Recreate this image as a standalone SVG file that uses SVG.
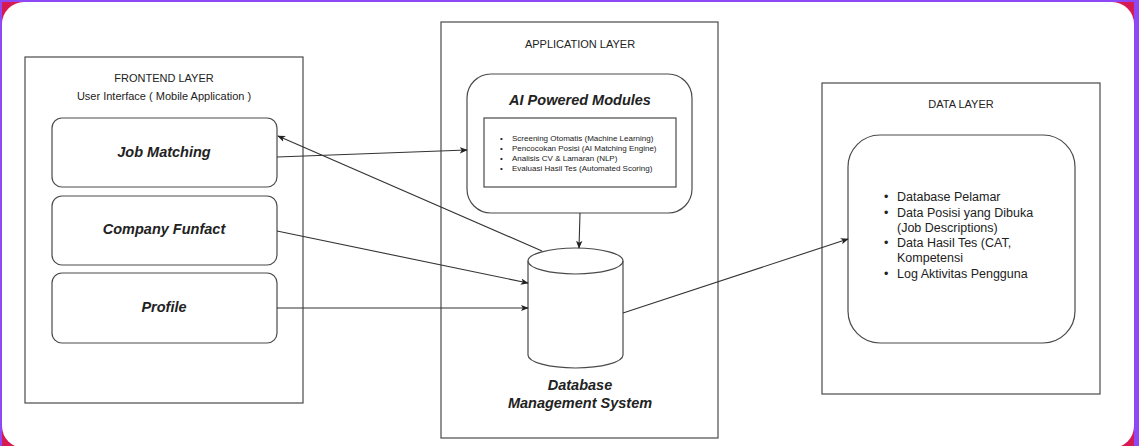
<svg xmlns="http://www.w3.org/2000/svg" width="1139" height="446" viewBox="0 0 1139 446">
<style>
.box{fill:#fff;stroke:#4a4a4a;stroke-width:1.2}
.t{font-family:"Liberation Sans",Arial,sans-serif;fill:#222}
.lbl{font-size:11px;text-anchor:middle}
.big{font-size:14.5px;font-weight:bold;font-style:italic;text-anchor:middle}
.sm{font-size:8px}
.md{font-size:12.5px}
.edge{fill:none;stroke:#333;stroke-width:1.1;marker-end:url(#arr)}
</style>
<defs>
<marker id="arr" viewBox="0 0 10 10" refX="9" refY="5" markerWidth="8" markerHeight="8" markerUnits="userSpaceOnUse" orient="auto">
<path d="M0,1 L10,5 L0,9 L2.5,5 Z" fill="#222"/>
</marker>
</defs>
<g id="background">
<rect x="0" y="0" width="1139" height="446" fill="#8f48f5"/>
<rect x="2" y="2" width="1132" height="444" fill="#d81a52"/>
<rect x="2" y="2" width="1132" height="446" rx="22" fill="#fff"/>
</g>
<g id="frontend-layer">
<rect class="box" x="25" y="57" width="278" height="346"/>
<text class="t lbl" x="164" y="82">FRONTEND LAYER</text>
<text class="t lbl" x="164" y="100" font-size="10.5">User Interface ( Mobile Application )</text>
</g>
<g id="job-matching">
<rect class="box" x="52" y="118" width="225" height="69" rx="10"/>
<text class="t big" x="164" y="157">Job Matching</text>
</g>
<g id="company-funfact">
<rect class="box" x="52" y="196" width="225" height="69" rx="10"/>
<text class="t big" x="164" y="234">Company Funfact</text>
</g>
<g id="profile">
<rect class="box" x="52" y="273" width="225" height="70" rx="10"/>
<text class="t big" x="164" y="312">Profile</text>
</g>
<g id="application-layer">
<rect class="box" x="441" y="22" width="277" height="416"/>
<text class="t lbl" x="580" y="48" font-size="10.5">APPLICATION LAYER</text>
</g>
<g id="ai-modules">
<rect class="box" x="467" y="74" width="225" height="139" rx="24"/>
<text class="t big" x="580" y="105" font-size="15">AI Powered Modules</text>
<rect class="box" x="484" y="118" width="192" height="69"/>
<g class="t sm">
<text x="500" y="141">•</text><text x="512" y="141">Screening Otomatis (Machine Learning)</text>
<text x="500" y="151">•</text><text x="512" y="151">Pencocokan Posisi (AI Matching Engine)</text>
<text x="500" y="161">•</text><text x="512" y="161">Analisis CV &amp; Lamaran (NLP)</text>
<text x="500" y="171">•</text><text x="512" y="171">Evaluasi Hasil Tes (Automated Scoring)</text>
</g>
</g>
<g id="dbms">
<path class="box" d="M528,261 L528,355 A47.5,13 0 0 0 623,355 L623,261 A47.5,13 0 0 0 528,261 Z"/>
<path d="M528,261 A47.5,13 0 0 0 623,261" fill="none" stroke="#4a4a4a" stroke-width="1.2"/>
<text class="t big" x="580" y="390">Database</text>
<text class="t big" x="580" y="408">Management System</text>
</g>
<g id="data-layer">
<rect class="box" x="822" y="83" width="278" height="311"/>
<text class="t lbl" x="961" y="108" font-size="10.5">DATA LAYER</text>
</g>
<g id="data-store">
<rect class="box" x="848" y="135" width="227" height="208" rx="32"/>
<g class="t md">
<text x="884" y="201">•</text><text x="897" y="201">Database Pelamar</text>
<text x="884" y="217">•</text><text x="897" y="217">Data Posisi yang Dibuka</text>
<text x="897" y="232">(Job Descriptions)</text>
<text x="884" y="247">•</text><text x="897" y="247">Data Hasil Tes (CAT,</text>
<text x="897" y="262">Kompetensi</text>
<text x="884" y="278">•</text><text x="897" y="278">Log Aktivitas Pengguna</text>
</g>
</g>
<g id="connectors">
<path class="edge" d="M277,157 L467,150"/>
<path class="edge" d="M542,251 L278,136"/>
<path class="edge" d="M277,231 L528,283"/>
<path class="edge" d="M277,308 L528,308"/>
<path class="edge" d="M580,213 L579,248"/>
<path class="edge" d="M623,313 L848,239"/>
</g>
</svg>
